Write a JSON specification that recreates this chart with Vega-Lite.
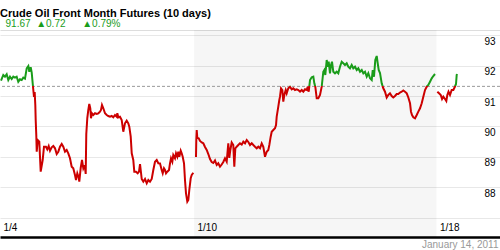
{
  "$schema": "https://vega.github.io/schema/vega-lite/v6.json",
  "width": 500,
  "height": 207,
  "autosize": {"type": "none"},
  "padding": {"left": 0, "top": 30, "right": 0, "bottom": 13},
  "background": "white",
  "config": {"view": {"stroke": null}, "font": "Liberation Sans"},
  "title": {
    "text": "Crude Oil Front Month Futures (10 days)",
    "subtitle": "\u200b\u00a0\u00a091.67\u00a0\u00a0▲0.72\u00a0\u00a0\u00a0\u00a0\u00a0\u00a0▲0.79%",
    "anchor": "start",
    "frame": "group",
    "orient": "top",
    "offset": 1,
    "font": "Liberation Sans",
    "fontSize": 11,
    "fontWeight": "bold",
    "color": "#000000",
    "subtitleFont": "Liberation Sans",
    "subtitleFontSize": 10,
    "subtitleColor": "#1a9c1a",
    "subtitlePadding": 0
  },
  "resolve": {"axis": {"x": "independent"}},
  "layer": [
    {
      "data": {"values": [{"start": 4, "end": 9}]},
      "mark": {"type": "rect", "color": "#000000", "opacity": 0.035},
      "encoding": {
        "x": {
          "field": "start",
          "type": "quantitative",
          "scale": {"domain": [0, 10.309], "nice": false, "zero": false},
          "axis": {
            "orient": "top",
            "labels": false,
            "ticks": false,
            "grid": false,
            "domain": true,
            "domainColor": "#dddddd",
            "domainWidth": 1,
            "title": null
          }
        },
        "x2": {"field": "end"}
      }
    },
    {
      "data": {"values": [{"prev": 91.32}]},
      "mark": {"type": "rule", "color": "#999999", "strokeWidth": 1, "strokeDash": [3, 2]},
      "encoding": {
        "y": {"field": "prev", "type": "quantitative"}
      }
    },
    {
      "data": {"values": [
        {"t":0.021,"v":91.506},{"t":0.068,"v":91.694},{"t":0.103,"v":91.638},{"t":0.138,"v":91.717},{"t":0.171,"v":91.529},
        {"t":0.206,"v":91.638},{"t":0.241,"v":91.562},{"t":0.274,"v":91.638},{"t":0.309,"v":91.605},{"t":0.344,"v":91.638},
        {"t":0.377,"v":91.473},{"t":0.412,"v":91.552},{"t":0.447,"v":91.529},{"t":0.480,"v":91.605},{"t":0.515,"v":91.572},
        {"t":0.551,"v":91.914},{"t":0.584,"v":91.990},{"t":0.604,"v":91.802},{"t":0.633,"v":91.947},{"t":0.654,"v":91.770},
        {"t":0.674,"v":91.421},{"t":0.687,"v":91.200},{"t":0.701,"v":90.970},{"t":0.715,"v":91.135},{"t":0.728,"v":90.707},
        {"t":0.736,"v":90.214},{"t":0.748,"v":89.720},{"t":0.757,"v":89.171},{"t":0.777,"v":89.556},{"t":0.810,"v":89.500},
        {"t":0.839,"v":88.513},{"t":0.880,"v":88.898},{"t":0.907,"v":89.335},{"t":0.948,"v":89.335},{"t":0.975,"v":89.250},
        {"t":1.004,"v":89.358},{"t":1.031,"v":89.204},{"t":1.066,"v":89.316},{"t":1.099,"v":89.358},{"t":1.134,"v":89.283},
        {"t":1.169,"v":89.095},{"t":1.202,"v":89.171},{"t":1.237,"v":89.335},{"t":1.272,"v":89.424},{"t":1.305,"v":89.335},
        {"t":1.340,"v":89.171},{"t":1.375,"v":89.227},{"t":1.408,"v":89.118},{"t":1.443,"v":88.954},{"t":1.478,"v":88.677},
        {"t":1.511,"v":88.625},{"t":1.546,"v":88.404},{"t":1.567,"v":88.240},{"t":1.594,"v":88.460},{"t":1.623,"v":88.322},
        {"t":1.635,"v":88.184},{"t":1.664,"v":88.635},{"t":1.691,"v":88.898},{"t":1.718,"v":88.625},{"t":1.746,"v":88.733},
        {"t":1.767,"v":88.437},{"t":1.779,"v":89.753},{"t":1.800,"v":90.279},{"t":1.821,"v":90.543},{"t":1.841,"v":90.740},
        {"t":1.862,"v":90.599},{"t":1.876,"v":90.270},{"t":1.897,"v":90.434},{"t":1.924,"v":90.378},{"t":1.959,"v":90.434},
        {"t":1.994,"v":90.411},{"t":2.027,"v":90.434},{"t":2.062,"v":90.487},{"t":2.082,"v":90.543},{"t":2.103,"v":90.707},
        {"t":2.130,"v":90.599},{"t":2.165,"v":90.434},{"t":2.200,"v":90.378},{"t":2.233,"v":90.345},{"t":2.268,"v":90.322},
        {"t":2.303,"v":90.345},{"t":2.336,"v":90.302},{"t":2.371,"v":90.378},{"t":2.406,"v":90.322},{"t":2.419,"v":90.434},
        {"t":2.439,"v":90.302},{"t":2.474,"v":90.322},{"t":2.509,"v":90.214},{"t":2.542,"v":89.829},{"t":2.577,"v":90.105},
        {"t":2.612,"v":90.191},{"t":2.645,"v":90.105},{"t":2.666,"v":89.993},{"t":2.695,"v":89.664},{"t":2.716,"v":89.118},
        {"t":2.748,"v":88.898},{"t":2.769,"v":88.513},{"t":2.804,"v":88.513},{"t":2.839,"v":88.460},{"t":2.866,"v":88.513},
        {"t":2.887,"v":88.766},{"t":2.922,"v":88.273},{"t":2.955,"v":88.184},{"t":2.990,"v":88.273},{"t":3.025,"v":88.131},
        {"t":3.058,"v":88.240},{"t":3.093,"v":88.184},{"t":3.128,"v":88.273},{"t":3.161,"v":88.569},{"t":3.196,"v":88.842},
        {"t":3.231,"v":88.898},{"t":3.264,"v":88.789},{"t":3.299,"v":88.783},{"t":3.334,"v":88.569},{"t":3.355,"v":88.460},
        {"t":3.381,"v":88.625},{"t":3.402,"v":88.569},{"t":3.423,"v":88.460},{"t":3.450,"v":88.513},{"t":3.485,"v":88.569},
        {"t":3.505,"v":88.789},{"t":3.526,"v":88.954},{"t":3.553,"v":88.842},{"t":3.573,"v":89.062},{"t":3.608,"v":88.954},
        {"t":3.629,"v":89.118},{"t":3.656,"v":89.006},{"t":3.676,"v":89.171},{"t":3.697,"v":89.006},{"t":3.726,"v":89.204},
        {"t":3.746,"v":89.118},{"t":3.767,"v":89.006},{"t":3.794,"v":88.789},{"t":3.814,"v":88.240},{"t":3.835,"v":87.802},
        {"t":3.862,"v":87.526},{"t":3.883,"v":87.582},{"t":3.903,"v":87.911},{"t":3.932,"v":88.296},{"t":3.953,"v":88.404},
        {"t":3.986,"v":88.480},
        {"t":4.010,"v":null},
        {"t":4.041,"v":88.997},{"t":4.047,"v":89.556},{"t":4.056,"v":89.885},{"t":4.068,"v":89.622},{"t":4.097,"v":89.612},
        {"t":4.124,"v":89.523},{"t":4.159,"v":89.473},{"t":4.192,"v":89.447},{"t":4.227,"v":89.325},{"t":4.262,"v":89.227},
        {"t":4.295,"v":89.095},{"t":4.330,"v":88.931},{"t":4.365,"v":88.832},{"t":4.398,"v":88.799},{"t":4.433,"v":88.881},
        {"t":4.468,"v":88.733},{"t":4.501,"v":88.789},{"t":4.536,"v":88.677},{"t":4.571,"v":88.750},{"t":4.604,"v":88.832},
        {"t":4.639,"v":88.954},{"t":4.674,"v":88.842},{"t":4.695,"v":89.227},{"t":4.707,"v":89.447},{"t":4.728,"v":88.964},
        {"t":4.749,"v":89.227},{"t":4.777,"v":89.473},{"t":4.810,"v":89.391},{"t":4.831,"v":88.677},{"t":4.852,"v":89.283},
        {"t":4.880,"v":89.335},{"t":4.913,"v":89.391},{"t":4.948,"v":89.447},{"t":4.984,"v":89.408},{"t":5.017,"v":89.500},
        {"t":5.052,"v":89.447},{"t":5.087,"v":89.556},{"t":5.120,"v":89.490},{"t":5.155,"v":89.391},{"t":5.190,"v":89.447},
        {"t":5.223,"v":89.391},{"t":5.258,"v":89.335},{"t":5.293,"v":89.283},{"t":5.326,"v":89.335},{"t":5.361,"v":89.283},
        {"t":5.396,"v":89.447},{"t":5.429,"v":89.335},{"t":5.464,"v":89.006},{"t":5.499,"v":89.171},{"t":5.532,"v":89.227},
        {"t":5.553,"v":89.391},{"t":5.581,"v":89.664},{"t":5.602,"v":89.829},{"t":5.635,"v":89.885},{"t":5.670,"v":89.941},
        {"t":5.691,"v":90.049},{"t":5.705,"v":90.322},{"t":5.738,"v":90.651},{"t":5.759,"v":90.872},{"t":5.773,"v":90.980},
        {"t":5.794,"v":91.256},{"t":5.821,"v":91.200},{"t":5.841,"v":90.816},{"t":5.862,"v":91.036},{"t":5.891,"v":91.200},
        {"t":5.911,"v":91.092},{"t":5.944,"v":91.256},{"t":5.979,"v":91.309},{"t":6.014,"v":91.223},{"t":6.047,"v":91.256},
        {"t":6.082,"v":91.200},{"t":6.118,"v":91.223},{"t":6.151,"v":91.200},{"t":6.186,"v":91.145},{"t":6.221,"v":91.200},
        {"t":6.254,"v":91.145},{"t":6.289,"v":91.223},{"t":6.324,"v":91.200},{"t":6.344,"v":91.309},{"t":6.365,"v":91.145},
        {"t":6.392,"v":91.529},{"t":6.427,"v":91.618},{"t":6.460,"v":91.638},{"t":6.481,"v":91.421},{"t":6.501,"v":91.309},
        {"t":6.530,"v":90.927},{"t":6.563,"v":90.927},{"t":6.598,"v":91.036},{"t":6.633,"v":91.309},{"t":6.666,"v":91.802},
        {"t":6.687,"v":91.858},{"t":6.707,"v":91.694},{"t":6.736,"v":92.187},{"t":6.757,"v":91.967},{"t":6.777,"v":92.131},
        {"t":6.804,"v":91.750},{"t":6.825,"v":92.023},{"t":6.845,"v":92.131},{"t":6.872,"v":91.802},{"t":6.907,"v":91.750},
        {"t":6.942,"v":91.802},{"t":6.975,"v":91.750},{"t":7.010,"v":91.967},{"t":7.045,"v":92.131},{"t":7.078,"v":92.079},
        {"t":7.113,"v":92.023},{"t":7.148,"v":92.079},{"t":7.181,"v":91.967},{"t":7.216,"v":91.914},{"t":7.251,"v":92.023},
        {"t":7.284,"v":91.914},{"t":7.320,"v":91.967},{"t":7.355,"v":91.858},{"t":7.388,"v":91.914},{"t":7.423,"v":91.802},
        {"t":7.458,"v":91.858},{"t":7.491,"v":91.750},{"t":7.526,"v":91.802},{"t":7.561,"v":91.638},{"t":7.594,"v":91.750},
        {"t":7.629,"v":91.585},{"t":7.664,"v":91.529},{"t":7.685,"v":91.858},{"t":7.711,"v":91.638},{"t":7.738,"v":92.187},
        {"t":7.767,"v":92.319},{"t":7.788,"v":92.079},{"t":7.808,"v":91.858},{"t":7.835,"v":91.760},{"t":7.870,"v":91.421},
        {"t":7.903,"v":91.256},{"t":7.938,"v":91.145},{"t":7.973,"v":90.954},{"t":8.006,"v":91.036},{"t":8.041,"v":91.092},
        {"t":8.076,"v":91.003},{"t":8.109,"v":90.954},{"t":8.144,"v":91.003},{"t":8.179,"v":91.069},{"t":8.212,"v":91.069},
        {"t":8.247,"v":91.118},{"t":8.282,"v":91.145},{"t":8.315,"v":91.184},{"t":8.351,"v":91.145},{"t":8.386,"v":91.092},
        {"t":8.419,"v":90.954},{"t":8.454,"v":90.763},{"t":8.474,"v":90.487},{"t":8.495,"v":90.378},{"t":8.522,"v":90.302},
        {"t":8.557,"v":90.270},{"t":8.592,"v":90.378},{"t":8.625,"v":90.487},{"t":8.660,"v":90.599},{"t":8.695,"v":90.763},
        {"t":8.728,"v":90.980},{"t":8.763,"v":91.200},{"t":8.798,"v":91.309},{"t":8.831,"v":91.365},{"t":8.866,"v":91.473},
        {"t":8.901,"v":91.585},{"t":8.934,"v":91.661},{"t":8.969,"v":91.727},
        {"t":8.990,"v":null},
        {"t":9.017,"v":91.145},{"t":9.052,"v":91.092},{"t":9.087,"v":91.036},{"t":9.114,"v":90.904},{"t":9.140,"v":90.980},
        {"t":9.175,"v":90.904},{"t":9.202,"v":90.839},{"t":9.223,"v":91.036},{"t":9.247,"v":91.145},{"t":9.278,"v":91.036},
        {"t":9.313,"v":91.200},{"t":9.347,"v":91.200},{"t":9.381,"v":91.316},{"t":9.402,"v":91.398},{"t":9.416,"v":91.694},
        {"t":9.423,"v":91.727}
      ]},
      "mark": {
        "type": "line",
        "strokeWidth": 2,
        "invalid": "break-paths-filter-domains",
        "stroke": {
          "gradient": "linear",
          "x1": 0, "y1": 0, "x2": 0, "y2": 1,
          "stops": [
            {"offset": 0, "color": "#1a9c1a"},
            {"offset": 0.208, "color": "#1a9c1a"},
            {"offset": 0.208, "color": "#cc0000"},
            {"offset": 1, "color": "#cc0000"}
          ]
        }
      },
      "encoding": {
        "x": {
          "field": "t",
          "type": "quantitative",
          "scale": {"domain": [0, 10.309], "nice": false, "zero": false},
          "axis": {
            "orient": "bottom",
            "values": [0, 4, 9],
            "tickCount": 20,
            "labelExpr": "datum.value == 0 ? '1/4' : datum.value == 4 ? '1/10' : '1/18'",
            "grid": false,
            "ticks": false,
            "tickSize": 0,
            "domain": true,
            "domainColor": "#000000",
            "domainWidth": 2.5,
            "labelAlign": "left",
            "labelBaseline": "middle",
            "labelOffset": 3,
            "labelPadding": -9.5,
            "labelFlush": false,
            "labelOverlap": false,
            "labelFont": "Liberation Sans",
            "labelFontSize": 10,
            "labelColor": "#000000",
            "title": "January 14, 2011",
            "titleFont": "Liberation Sans",
            "titleFontSize": 10,
            "titleFontWeight": "normal",
            "titleColor": "#999999",
            "titleAlign": "right",
            "titleBaseline": "alphabetic",
            "titleX": 498,
            "titleY": 10.5
          }
        },
        "y": {
          "field": "v",
          "type": "quantitative",
          "scale": {"domain": [86.365, 93.174], "nice": false, "zero": false},
          "axis": {
            "orient": "right",
            "values": [87, 88, 89, 90, 91, 92, 93],
            "tickCount": 20,
            "format": "d",
            "labelExpr": "datum.value >= 88 ? datum.label : ''",
            "grid": true,
            "gridColor": "#e8e8e8",
            "gridWidth": 1,
            "domain": false,
            "ticks": false,
            "tickSize": 0,
            "labelAlign": "left",
            "labelBaseline": "top",
            "labelPadding": -16,
            "labelOffset": 1,
            "labelFont": "Liberation Sans",
            "labelFontSize": 10,
            "labelColor": "#000000",
            "labelOverlap": false,
            "labelFlush": false,
            "title": null
          }
        }
      }
    }
  ]
}
